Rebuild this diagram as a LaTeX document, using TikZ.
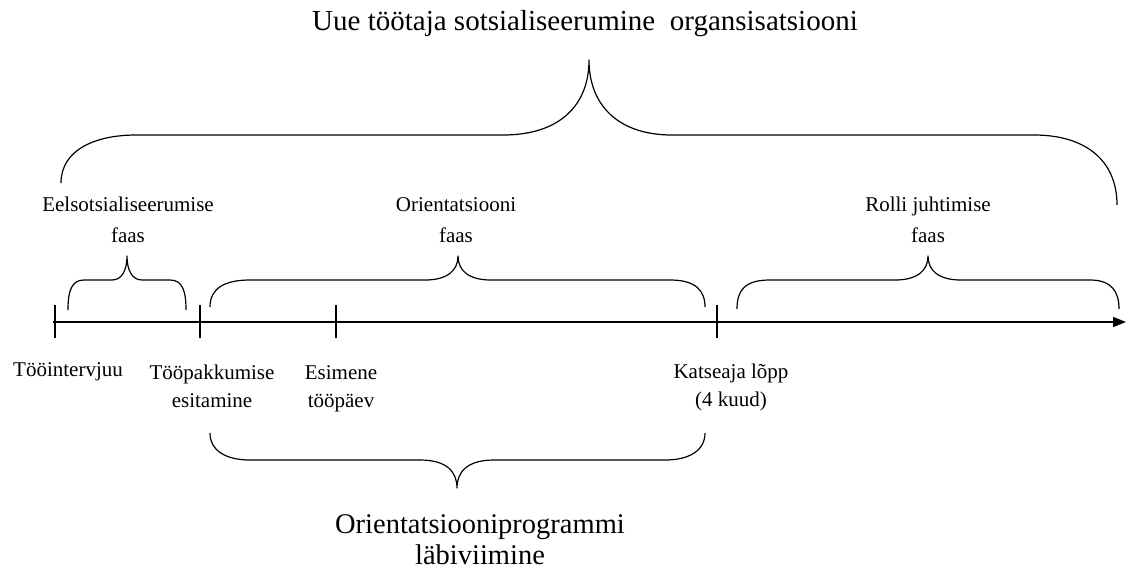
\documentclass[tikz,border=0pt]{standalone}
\usepackage{fontspec}
\setmainfont{Liberation Serif}
\usetikzlibrary{arrows.meta}

\begin{document}
\begin{tikzpicture}[x=1pt, y=-1pt,
    axis/.style={line width=1.4pt, -{Triangle[length=13pt,width=10pt]}},
    tickmark/.style={line width=1.4pt},
    curly/.style={line width=1.2pt, line join=round},
    headline/.style={font=\fontsize{29}{29}\selectfont, inner sep=0pt},
    phase/.style={font=\fontsize{21}{31}\selectfont, align=center, inner sep=0pt},
    event/.style={font=\fontsize{21}{28}\selectfont, align=center, inner sep=0pt},
    prog/.style={font=\fontsize{28.5}{31}\selectfont, align=center, inner sep=0pt}
  ]
    \useasboundingbox (0,0) rectangle (1126,571);

    % time axis
    \coordinate (axstart) at (53,322);
    \coordinate (axend)   at (1126,322);
    \coordinate (t1) at (55,322);
    \coordinate (t2) at (200,322);
    \coordinate (t3) at (336,322);
    \coordinate (t4) at (717,322);
    \draw[axis] (axstart) -- (axend);
    \foreach \t in {t1,t2,t3,t4}
      \draw[tickmark] (\t) ++(0,-17) -- ++(0,33);

    % labels
    \node[headline] (title) at (585,24) {Uue töötaja sotsialiseerumine\ \ organsisatsiooni};
    \node[phase] (pre)  at (128,220) {Eelsotsialiseerumise\\faas};
    \node[phase] (ori)  at (456,220) {Orientatsiooni\\faas};
    \node[phase] (role) at (928,220) {Rolli juhtimise\\faas};
    \node[event] (interview) at (68,372)  {Tööintervjuu};
    \node[event] (offer)     at (212,386) {Tööpakkumise\\esitamine};
    \node[event] (firstday)  at (341,389) {Esimene\\tööpäev};
    \node[event] (trial)     at (731,387) {Katseaja lõpp\\(4 kuud)};
    \node[prog]  (program)   at (480,540) {Orientatsiooniprogrammi\\läbiviimine};

    % braces
    \draw[curly] (61,183) .. controls (61,150) and (95,135) .. (136,135) -- (503,135)
      .. controls (560,135) and (589,105) .. (589,60)
      .. controls (589,105) and (618,135) .. (672,135) -- (1034,135)
      .. controls (1085,135) and (1117,160) .. (1117,205);
    \draw[curly] (68,310) .. controls (68,290) and (72,280) .. (84,280) -- (112,280)
      .. controls (122,280) and (127,270) .. (127,256)
      .. controls (127,270) and (132,280) .. (142,280) -- (170,280)
      .. controls (182,280) and (186,290) .. (186,310);
    \draw[curly] (210,307) .. controls (210,288) and (225,280) .. (250,280) -- (425,280)
      .. controls (448,280) and (458,270) .. (458,256)
      .. controls (458,270) and (468,280) .. (491,280) -- (670,280)
      .. controls (695,280) and (705,290) .. (705,307);
    \draw[curly] (737,309) .. controls (737,290) and (745,280) .. (770,280) -- (895,280)
      .. controls (918,280) and (928,270) .. (928,256)
      .. controls (928,270) and (938,280) .. (961,280) -- (1090,280)
      .. controls (1112,280) and (1119,292) .. (1119,309);
    \draw[curly] (210,433) .. controls (210,450) and (225,460) .. (250,460) -- (420,460)
      .. controls (447,460) and (457,472) .. (457,488)
      .. controls (457,472) and (467,460) .. (494,460) -- (665,460)
      .. controls (690,460) and (705,450) .. (705,433);
  \end{tikzpicture}
\end{document}
